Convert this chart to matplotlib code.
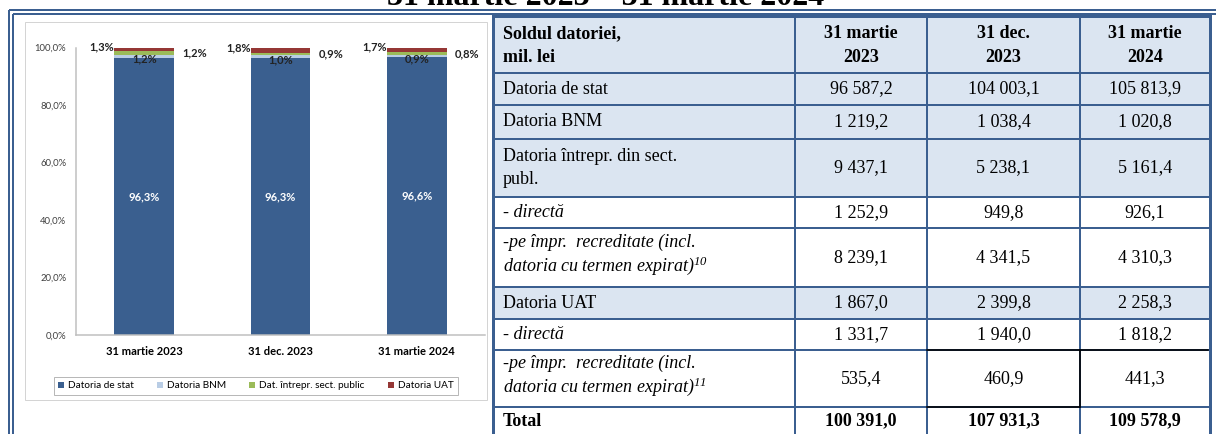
import numpy as np
import matplotlib
matplotlib.use("Agg")
import matplotlib.pyplot as plt
from matplotlib.patches import Rectangle, Patch

W, H, DPI = 1216, 434, 100

# chart data: share of total debt, %
dates = ['31 martie 2023', '31 dec. 2023', '31 martie 2024']
series_names = ['Datoria de stat', 'Datoria BNM', 'Dat. întrepr. sect. public', 'Datoria UAT']
stat_share = [96.3, 96.3, 96.6]
bnm_share = [1.2, 1.0, 0.9]
intrepr_share = [1.2, 0.9, 0.8]
uat_share = [1.3, 1.8, 1.7]
y_ticks = [0, 20, 40, 60, 80, 100]

# table data, mil. lei
title = '31 martie 2023 – 31 martie 2024'
head_label = 'Soldul datoriei,\nmil. lei'
col_headers = ['31 martie\n2023', '31 dec.\n2023', '31 martie\n2024']
row_labels = [
    'Datoria de stat',
    'Datoria BNM',
    'Datoria întrepr. din sect.\npubl.',
    '- directă',
    '-pe împr.  recreditate (incl.\ndatoria cu termen expirat)$^{\\mathit{10}}$',
    'Datoria UAT',
    '- directă',
    '-pe împr.  recreditate (incl.\ndatoria cu termen expirat)$^{\\mathit{11}}$',
    'Total',
]
row_values = [
    ['96 587,2', '104 003,1', '105 813,9'],
    ['1 219,2', '1 038,4', '1 020,8'],
    ['9 437,1', '5 238,1', '5 161,4'],
    ['1 252,9', '949,8', '926,1'],
    ['8 239,1', '4 341,5', '4 310,3'],
    ['1 867,0', '2 399,8', '2 258,3'],
    ['1 331,7', '1 940,0', '1 818,2'],
    ['535,4', '460,9', '441,3'],
    ['100 391,0', '107 931,3', '109 578,9'],
]
# row styles
row_italic = [False, False, False, True, True, False, True, True, False]
row_bold = [False] * 8 + [True]
row_shaded = [True, True, True, False, False, True, False, False, False]

plt.rcParams['mathtext.fontset'] = 'custom'
plt.rcParams['mathtext.rm'] = 'Liberation Serif:italic'
plt.rcParams['mathtext.it'] = 'Liberation Serif:italic'

BLUE = '#3b5f90'
SHADE = '#dbe5f1'
serif = 'Liberation Serif'
sans = 'Lato'

fig = plt.figure(figsize=(W / DPI, H / DPI), dpi=DPI)

# pixel-space background layer
bg = fig.add_axes([0, 0, 1, 1])
bg.set_xlim(0, W)
bg.set_ylim(H, 0)
bg.axis('off')

def lw(px):
    return px * 72 / DPI

# title (cut off at the top, as in the source page)
bg.text(606, 5, title, ha='center', va='baseline', fontsize=23,
        fontweight='bold', family=serif)

# outer double border
for off in (10, 13.5):
    bg.plot([off - 1, W], [off, off], color=BLUE, lw=lw(2), solid_capstyle='butt')
    bg.plot([off - 1, off - 1], [off, H], color=BLUE, lw=lw(2), solid_capstyle='butt')

# chart frame
bg.add_patch(Rectangle((25, 22), 462, 378, facecolor='white', edgecolor='#d4d4d4', lw=lw(1)))

# table
col_edges = [493, 795, 927, 1080, 1210]
row_edges = [16, 73, 105, 139, 197, 228, 287, 319, 350, 407, 445]

bg.add_patch(Rectangle((col_edges[0], row_edges[0]), col_edges[-1] - col_edges[0],
                       row_edges[1] - row_edges[0], facecolor=SHADE, edgecolor='none'))
for i, shaded in enumerate(row_shaded):
    bg.add_patch(Rectangle((col_edges[0], row_edges[i + 1]), col_edges[-1] - col_edges[0],
                           row_edges[i + 2] - row_edges[i + 1],
                           facecolor=SHADE if shaded else 'white', edgecolor='none'))

for y in row_edges[:-1]:
    bg.plot([col_edges[0], col_edges[-1]], [y, y], color=BLUE,
            lw=lw(3 if y == row_edges[0] else 2), solid_capstyle='projecting')
for x in col_edges:
    bg.plot([x, x], [row_edges[0], H], color=BLUE,
            lw=lw(3 if x in (col_edges[0], col_edges[-1]) else 2), solid_capstyle='butt')
# a few black cell borders in the UAT block
bg.plot([col_edges[2], col_edges[4] - 2], [row_edges[8], row_edges[8]], color='black', lw=lw(1.6))
bg.plot([col_edges[3], col_edges[3]], [row_edges[8], row_edges[9]], color='black', lw=lw(1.6))
bg.plot([col_edges[2], col_edges[3]], [row_edges[9], row_edges[9]], color='black', lw=lw(1.6))

col_centers = [(a + b) / 2 for a, b in zip(col_edges[1:-1], col_edges[2:])]
txt_x = col_edges[0] + 10
fs = 13

hy = (row_edges[0] + row_edges[1]) / 2 + 1
bg.text(txt_x, hy, head_label, ha='left', va='center', fontsize=fs, fontweight='bold',
        family=serif, linespacing=1.55)
for cx, h in zip(col_centers, col_headers):
    bg.text(cx, hy, h, ha='center', va='center', fontsize=fs, fontweight='bold',
            family=serif, linespacing=1.55)

for i, (lab, vals) in enumerate(zip(row_labels, row_values)):
    cy = (row_edges[i + 1] + row_edges[i + 2]) / 2
    if i == len(row_labels) - 1:
        cy = row_edges[i + 1] + 14
    style = 'italic' if row_italic[i] else 'normal'
    weight = 'bold' if row_bold[i] else 'normal'
    # superscript lines are taller, so tighten their spacing
    spacing = 1.2 if '$' in lab else 1.45
    bg.text(txt_x, cy - (2 if '$' in lab else 0), lab, ha='left', va='center', fontsize=fs,
            fontstyle=style, fontweight=weight, family=serif, linespacing=spacing)
    for cx, v in zip(col_centers, vals):
        bg.text(cx, cy, v, ha='center', va='center', fontsize=fs, fontweight=weight,
                family=serif)

# stacked bar chart
ax = fig.add_axes([76 / W, (H - 335) / H, (485 - 76) / W, (335 - 47.6) / H])
ax.set_facecolor('none')
colors = ['#3a5f8f', '#b9cde5', '#9bbb59', '#953735']
series = [stat_share, bnm_share, intrepr_share, uat_share]
x = np.arange(len(dates))
bw = 0.44
bottom = np.zeros(len(dates))
for name, vals, c in zip(series_names, series, colors):
    ax.bar(x, vals, bw, bottom=bottom, color=c, label=name)
    mids = bottom + np.array(vals) / 2
    for xi, m, v in zip(x, mids, vals):
        s = f'{v:.1f}'.replace('.', ',') + '%'
        if name == 'Datoria de stat':
            ax.text(xi, m, s, ha='center', va='center', color='white', fontsize=8,
                    fontweight='bold', family=sans)
        elif name == 'Datoria BNM':
            ax.annotate(s, (xi, m), xytext=(0, -2), textcoords='offset points', ha='center',
                        va='center', fontsize=8, fontweight='bold', family=sans, color='#222222')
        elif name == 'Dat. întrepr. sect. public':
            ax.annotate(s, (xi + bw / 2, m), xytext=(6, 0), textcoords='offset points', ha='left',
                        va='center', fontsize=8, fontweight='bold', family=sans, color='#222222')
        else:
            ax.annotate(s, (xi - bw / 2, m), xytext=(0, 2), textcoords='offset points', ha='right',
                        va='center', fontsize=8, fontweight='bold', family=sans, color='#222222')
    bottom = bottom + np.array(vals)

ax.set_xlim(-0.5, len(dates) - 0.5)
ax.set_ylim(0, 100)
ax.set_yticks(y_ticks)
ax.set_yticklabels([f'{t:.1f}'.replace('.', ',') + '%' for t in y_ticks],
                   fontsize=6.8, family=sans, color='#404040')
ax.set_xticks(x)
ax.set_xticklabels(dates, fontsize=8, fontweight='bold', family=sans)
ax.tick_params(axis='y', length=0, pad=7)
ax.tick_params(axis='x', length=0, pad=8)
for s in ('top', 'right'):
    ax.spines[s].set_visible(False)
for s in ('left', 'bottom'):
    ax.spines[s].set_color('#bfbfbf')
    ax.spines[s].set_linewidth(lw(1.5))

handles = [Patch(facecolor=c, edgecolor='none') for c in colors]
leg = fig.legend(handles, series_names, loc='center', bbox_to_anchor=(256 / W, 1 - 386 / H),
                 ncol=4, prop={'family': sans, 'size': 7.2}, frameon=True,
                 fancybox=False, edgecolor='#a6a6a6', handlelength=0.6, handleheight=0.6,
                 handletextpad=0.4, columnspacing=2.3, borderpad=0.45)
leg.get_frame().set_linewidth(lw(1))

fig.savefig('out.png', dpi=DPI)
